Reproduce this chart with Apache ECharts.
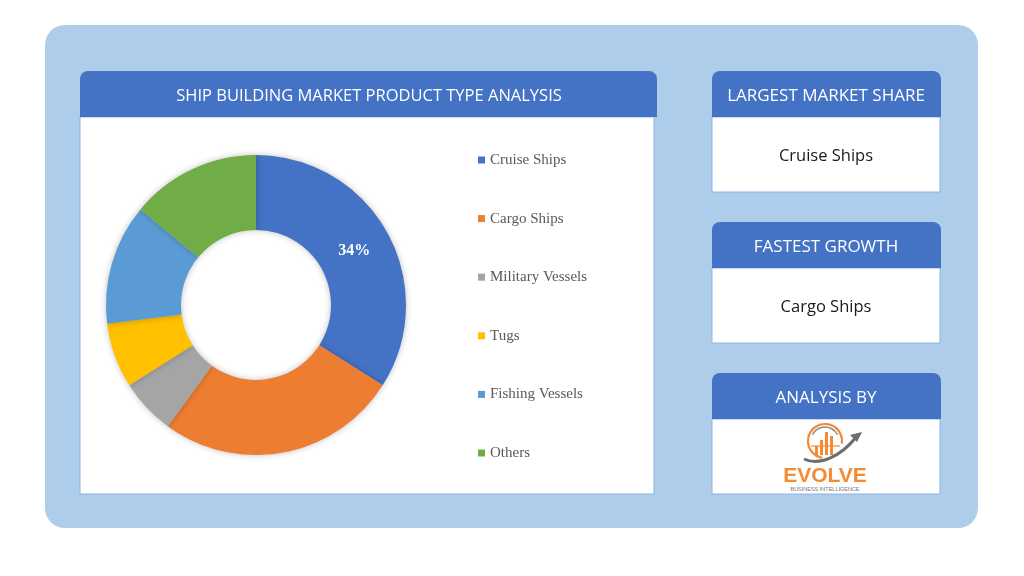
<!DOCTYPE html>
<html><head><meta charset="utf-8">
<script src="https://cdn.jsdelivr.net/npm/echarts@6/dist/echarts.min.js"></script>
<style>html,body{margin:0;padding:0;background:#fff}#c{width:1024px;height:576px}</style>
</head><body><div id="c"></div>
<script>
const categories = ['Cruise Ships','Cargo Ships','Military Vessels','Tugs','Fishing Vessels','Others'];
const shares = [34, 26, 6, 7, 13, 14];
const colors = ['#4472C4','#ED7D31','#A5A5A5','#FFC000','#5B9BD5','#70AD47'];
const chartTitle = 'SHIP BUILDING MARKET PRODUCT TYPE ANALYSIS';
const cards = [
  {title:'LARGEST MARKET SHARE', value:'Cruise Ships'},
  {title:'FASTEST GROWTH', value:'Cargo Ships'},
  {title:'ANALYSIS BY', value:''}
];

const chart = echarts.init(document.getElementById('c'));
const headFont = '"Open Sans", "Noto Sans", sans-serif';
const serif = '"Liberation Serif", "DejaVu Serif", serif';
const g = [];
g.push({type:'rect', shape:{x:45,y:25,width:933,height:503,r:20}, style:{fill:'#AECDEA'}, z:0});
// left card
g.push({type:'rect', shape:{x:80,y:117,width:574,height:377}, style:{fill:'#fff',stroke:'#8DB4E2',lineWidth:1}, z:1});
g.push({type:'rect', shape:{x:80,y:71,width:577,height:46,r:[8,8,0,0]}, style:{fill:'#4472C4'}, z:2});
g.push({type:'text', x:369, y:96, style:{text:chartTitle, fill:'#fff', font:'16.5px '+headFont, textAlign:'center', textVerticalAlign:'middle'}, z:3});
const tops=[71,222,373];
cards.forEach((c,i)=>{
  const t=tops[i];
  g.push({type:'rect', shape:{x:712,y:t+46,width:228,height:75}, style:{fill:'#fff',stroke:'#8DB4E2',lineWidth:1}, z:1});
  g.push({type:'rect', shape:{x:712,y:t,width:229,height:46,r:[8,8,0,0]}, style:{fill:'#4472C4'}, z:2});
  g.push({type:'text', x:826, y:t+25, style:{text:c.title, fill:'#fff', font:'17px '+headFont, textAlign:'center', textVerticalAlign:'middle'}, z:3});
  if(c.value) g.push({type:'text', x:826, y:t+85, style:{text:c.value, fill:'#1a1a1a', font:'16.5px '+headFont, textAlign:'center', textVerticalAlign:'middle'}, z:3});
});
// logo
g.push({type:'arc', shape:{cx:825,cy:441,r:17,startAngle:Math.PI*0.55,endAngle:Math.PI*2.05}, style:{stroke:'#F58A34',lineWidth:2.2,fill:null}, z:3});
g.push({type:'arc', shape:{cx:825,cy:441,r:14,startAngle:Math.PI*1.15,endAngle:Math.PI*1.85}, style:{stroke:'#8a8a8a',lineWidth:1.5,fill:null}, z:3});
[[815,446,3,9],[820,440,3,15],[825,432,3,23],[830,436,3,19]].forEach(b=>{
  g.push({type:'rect', shape:{x:b[0],y:b[1],width:b[2],height:b[3]}, style:{fill:'#F58A34'}, z:3});
});
g.push({type:'line', shape:{x1:811,y1:446,x2:840,y2:446}, style:{stroke:'#F58A34',lineWidth:1.2}, z:3});
g.push({type:'bezierCurve', shape:{x1:804,y1:459,cpx1:818,cpy1:466,x2:857,y2:436,cpx2:840,cpy2:458}, style:{stroke:'#6d6d6d',lineWidth:3,fill:null}, z:4});
g.push({type:'polygon', shape:{points:[[862,432],[850,435],[857,442]]}, style:{fill:'#6d6d6d'}, z:4});
g.push({type:'text', x:825, y:476, style:{text:'EVOLVE', fill:'#F58A34', font:'bold 21px "Liberation Sans Narrow", "Liberation Sans", Arial, sans-serif', textAlign:'center', textVerticalAlign:'middle'}, z:3});
g.push({type:'text', x:825, y:489, style:{text:'BUSINESS INTELLIGENCE', fill:'#777', font:'5.5px "Liberation Sans", Arial, sans-serif', textAlign:'center', textVerticalAlign:'middle'}, z:3});

chart.setOption({
  animation:false,
  color:colors,
  graphic:{elements:g},
  legend:{
    orient:'vertical', left:478, top:150, padding:0, itemWidth:7, itemHeight:7, icon:'rect', itemGap:38.6,
    data:categories,
    textStyle:{color:'#595959', fontSize:15, fontFamily:serif, lineHeight:20}
  },
  series:[{
    type:'pie', center:[256,305], radius:[75,150], startAngle:90, clockwise:true,
    z:5,
    itemStyle:{shadowBlur:6, shadowColor:'rgba(0,0,0,0.25)'},
    label:{show:false},
    labelLine:{show:false},
    emphasis:{disabled:true},
    data:categories.map((n,i)=>({name:n, value:shares[i],
      label: i===0 ? {show:true, position:'inside', offset:[-3,2], formatter:'{c}%', color:'#fff', fontSize:16, fontWeight:'bold', fontFamily:serif} : {show:false}}))
  }]
});
</script></body></html>
